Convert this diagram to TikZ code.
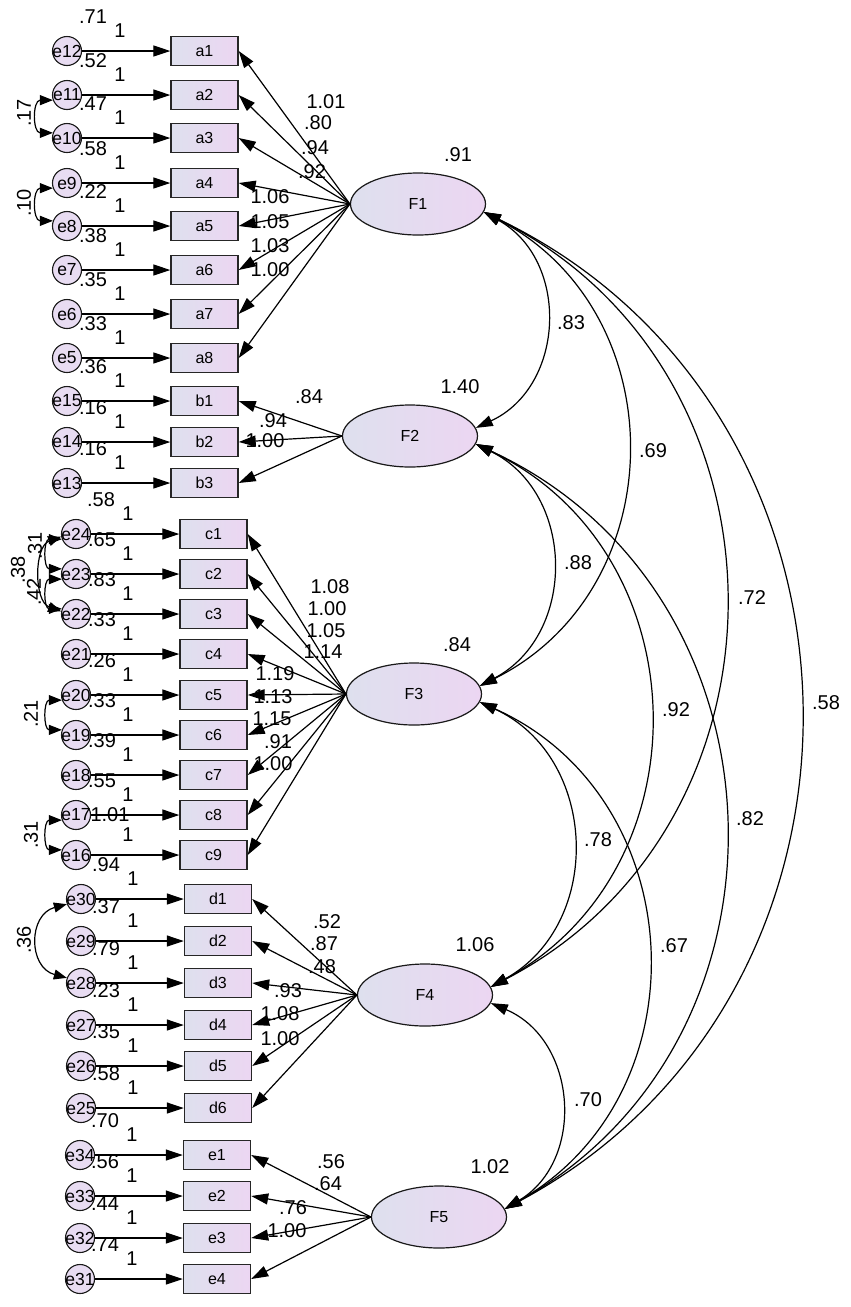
\documentclass[tikz,border=0pt]{standalone}
\usepackage{fontspec}
\setmainfont{Liberation Sans}
\usetikzlibrary{arrows.meta,shapes.geometric}
\definecolor{shL}{RGB}{222,224,238}
\definecolor{shR}{RGB}{236,214,242}
\definecolor{errC}{RGB}{232,220,242}
\begin{document}
\begin{tikzpicture}[x=1pt,y=-1pt,
 obs/.style={rectangle, draw=black!85, line width=1.4pt, minimum width=67pt, minimum height=29pt, inner sep=0pt, left color=shL, right color=shR, font=\fontsize{16}{16}\selectfont},
 lat/.style={ellipse, draw=black!90, line width=1.2pt, minimum width=135pt, minimum height=62pt, inner sep=0pt, left color=shL, right color=shR, font=\fontsize{16}{16}\selectfont},
 err/.style={circle, draw=black!90, line width=1.1pt, minimum size=29pt, inner sep=0pt, fill=errC},
 elbl/.style={inner sep=0pt, font=\fontsize{17.5}{17.5}\selectfont},
 lbl/.style={inner sep=0pt, font=\fontsize{20}{20}\selectfont},
 rlbl/.style={lbl, rotate=90},
 reg/.style={line width=1.2pt, -{Triangle[length=17pt,width=11pt]}},
 cov/.style={line width=1.2pt, {Triangle[length=17pt,width=11pt]}-{Triangle[length=17pt,width=11pt]}, bend left=63, looseness=1.17},
 ecov/.style={line width=1.2pt, {Triangle[length=13pt,width=10pt]}-{Triangle[length=13pt,width=10pt]}},
]
\useasboundingbox (0,0) rectangle (851,1307);
\fill[white] (0,0) rectangle (851,1307);

% factors
\node[lat] (F1) at (418,204) {F1};
\node[lat] (F2) at (410,436) {F2};
\node[lat] (F3) at (414,694) {F3};
\node[lat] (F4) at (425,995) {F4};
\node[lat] (F5) at (439,1217) {F5};

% indicators with error terms
\foreach \b/\y/\e/\v in {a1/51/12/.71, a2/95/11/.52, a3/138/10/.47, a4/183/9/.58, a5/226/8/.22, a6/270/7/.38, a7/314/6/.35, a8/358/5/.33, b1/401/15/.36, b2/442/14/.16, b3/483/13/.16}{
  \node[obs] (\b) at (204.5,\y) {\b};
  \node[err, label={[elbl]center:e\e}] (r\e) at (67,\y) {};
  \draw[reg] (r\e) -- (\b);
  \node[lbl] at (93,\y-34) {\v};
  \node[lbl] at (120,\y-20) {1};
}
\foreach \b/\y/\e/\v/\vx/\vy in {c1/534/24/.58/101/34, c2/574/23/.65/102/34, c3/614/22/.83/102/34, c4/654/21/.33/102/34, c5/695/20/.26/102/34, c6/735/19/.33/102/34, c7/775/18/.39/102/34, c8/815/17/.55/102/34, c9/855/16/1.01/110/40}{
  \node[obs] (\b) at (213.5,\y) {\b};
  \node[err, label={[elbl]center:e\e}] (r\e) at (76,\y) {};
  \draw[reg] (r\e) -- (\b);
  \node[lbl] at (\vx,\y-\vy) {\v};
  \node[lbl] at (128,\y-20) {1};
}
\foreach \b/\y/\e/\v in {d1/899/30/.94, d2/941/29/.37, d3/983/28/.79, d4/1025/27/.23, d5/1066/26/.35, d6/1108/25/.58}{
  \node[obs] (\b) at (218,\y) {\b};
  \node[err, label={[elbl]center:e\e}] (r\e) at (81,\y) {};
  \draw[reg] (r\e) -- (\b);
  \node[lbl] at (106,\y-34) {\v};
  \node[lbl] at (133,\y-20) {1};
}
\foreach \b/\y/\e/\v in {e1/1155/34/.70, e2/1196/33/.56, e3/1238/32/.44, e4/1279/31/.74}{
  \node[obs] (\b) at (217,\y) {\b};
  \node[err, label={[elbl]center:e\e}] (r\e) at (80,\y) {};
  \draw[reg] (r\e) -- (\b);
  \node[lbl] at (105,\y-34) {\v};
  \node[lbl] at (132,\y-20) {1};
}

% loadings
\foreach \b in {a1,a2,a3,a4,a5,a6,a7,a8} \draw[reg] (F1.west) -- (\b.east);
\foreach \b in {b1,b2,b3} \draw[reg] (F2.west) -- (\b.east);
\foreach \b in {c1,c2,c3,c4,c5,c6,c7,c8,c9} \draw[reg] (F3.west) -- (\b.east);
\foreach \b in {d1,d2,d3,d4,d5,d6} \draw[reg] (F4.west) -- (\b.east);
\foreach \b in {e1,e2,e3,e4} \draw[reg] (F5.west) -- (\b.east);

\foreach \t/\x/\y in {1.01/326/102, .80/318/123, .94/315/148, .92/312/172, 1.06/270/197, 1.05/270/222, 1.03/270/246, 1.00/270/270,
  .84/309/397, .94/273/421, 1.00/265/441,
  1.08/330/587, 1.00/327/609, 1.05/326/631, 1.14/323/652, 1.19/275/674, 1.13/273/697, 1.15/272/719, .91/278/742, 1.00/273/764,
  .52/327/922, .87/324/944, .48/322/967, .93/288/991, 1.08/280/1014, 1.00/280/1039,
  .56/331/1162, .64/328/1184, .76/293/1208, 1.00/287/1231}
  \node[lbl] at (\x,\y) {\t};

% factor variances
\node[lbl] at (458,155) {.91};
\node[lbl] at (460,387) {1.40};
\node[lbl] at (457,645) {.84};
\node[lbl] at (475,945) {1.06};
\node[lbl] at (490,1167) {1.02};

% factor covariances
\draw[cov] (F1.-7) to (F2.7);
\draw[cov] (F1.-7) to (F3.7);
\draw[cov] (F1.-7) to (F4.7);
\draw[cov] (F1.-7) to (F5.7);
\draw[cov] (F2.-7) to (F3.7);
\draw[cov] (F2.-7) to (F4.7);
\draw[cov] (F2.-7) to (F5.7);
\draw[cov] (F3.-7) to (F4.7);
\draw[cov] (F3.-7) to (F5.7);
\draw[cov] (F4.-7) to (F5.7);

\foreach \t/\x/\y in {.83/571/323, .69/653/451, .72/752/598, .58/826/703, .88/578/563, .92/676/710, .82/750/819, .78/598/840, .67/674/946, .70/588/1100}
  \node[lbl] at (\x,\y) {\t};

% error covariances
\draw[ecov, bend right=90, looseness=1.6] (r11.200) to (r10.160);
\node[rlbl] at (24,113) {.17};
\draw[ecov, bend right=90, looseness=1.6] (r9.200) to (r8.160);
\node[rlbl] at (24,203) {.10};
\draw[ecov, bend right=90, looseness=1.6] (r24.200) to (r23.160);
\node[rlbl] at (35,546) {.31};
\draw[ecov, bend right=90, looseness=1.6] (r23.200) to (r22.160);
\node[rlbl] at (34,592) {.42};
\draw[ecov, bend right=70] (r24.190) to (r22.170);
\node[rlbl] at (18,570) {.38};
\draw[ecov, bend right=90, looseness=1.6] (r20.200) to (r19.160);
\node[rlbl] at (31,714) {.21};
\draw[ecov, bend right=90, looseness=1.6] (r17.200) to (r16.160);
\node[rlbl] at (31,835) {.31};
\draw[ecov, bend right=75, looseness=1.4] (r30.200) to (r28.160);
\node[rlbl] at (24,940) {.36};
\end{tikzpicture}
\end{document}
